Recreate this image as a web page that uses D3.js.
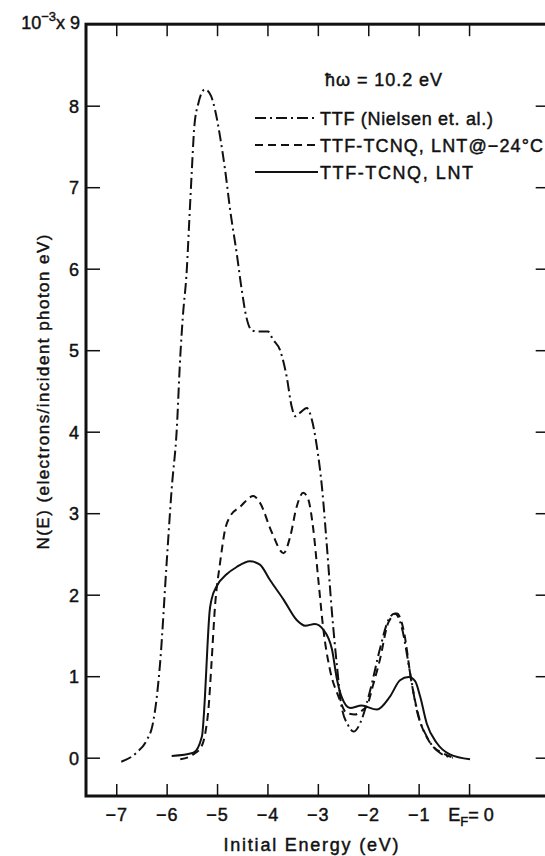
<!DOCTYPE html>
<html>
<head>
<meta charset="utf-8">
<script src="https://cdnjs.cloudflare.com/ajax/libs/d3/7.8.5/d3.min.js"></script>
<style>
  body { margin: 0; background: #fff; }
  text { font-family: "Liberation Sans", Arial, sans-serif; fill: #111; stroke: #111; stroke-width: 0.45px; }
</style>
</head>
<body>
<div id="chart"></div>
<script>
// values: [energy eV, N(E) x 1e-3]
var ttfNielsen = [[-6.9,-0.05],[-6.6,0.06],[-6.39,0.22],[-6.28,0.4],[-6.2,0.72],[-6.13,1.16],[-6.0,2.39],[-5.9,3.3],
  [-5.8,4.02],[-5.73,4.92],[-5.68,5.4],[-5.6,5.99],[-5.55,6.6],[-5.5,7.21],[-5.45,7.75],[-5.37,8.03],[-5.24,8.2],
  [-5.12,8.12],[-5.04,7.95],[-4.94,7.62],[-4.84,7.21],[-4.74,6.72],[-4.61,6.19],[-4.51,5.74],[-4.42,5.41],[-4.3,5.24],
  [-4.15,5.23],[-3.99,5.23],[-3.89,5.13],[-3.75,5.0],[-3.62,4.68],[-3.52,4.31],[-3.45,4.19],[-3.32,4.25],[-3.22,4.29],
  [-3.12,4.15],[-3.02,3.82],[-2.92,3.33],[-2.82,2.59],[-2.72,1.78],[-2.62,1.12],[-2.53,0.63],[-2.4,0.4],[-2.29,0.32],
  [-2.13,0.47],[-1.96,0.83],[-1.77,1.33],[-1.6,1.69],[-1.47,1.77],[-1.34,1.61],[-1.17,1.04],[-1.04,0.59],[-0.84,0.26],
  [-0.58,0.06],[-0.32,0.0]];
var lntWarm = [[-5.73,-0.02],[-5.47,0.04],[-5.3,0.15],[-5.22,0.35],[-5.17,0.6],[-5.11,1.16],[-5.04,1.86],[-4.94,2.39],
  [-4.84,2.8],[-4.74,2.96],[-4.54,3.08],[-4.28,3.21],[-4.15,3.13],[-3.91,2.76],[-3.68,2.51],[-3.55,2.71],[-3.42,3.08],
  [-3.29,3.25],[-3.19,3.17],[-3.09,2.8],[-2.99,2.18],[-2.89,1.57],[-2.76,1.08],[-2.59,0.75],[-2.43,0.55],[-2.26,0.53],
  [-2.1,0.59],[-2.03,0.63],[-1.9,0.9],[-1.77,1.2],[-1.6,1.66],[-1.43,1.77],[-1.3,1.57],[-1.14,0.92],[-1.0,0.51],
  [-0.77,0.18],[-0.5,0.05],[-0.31,0.0]];
var lnt = [[-5.9,0.02],[-5.47,0.06],[-5.3,0.26],[-5.24,0.75],[-5.19,1.37],[-5.15,1.78],[-5.11,1.94],[-5.01,2.1],
  [-4.81,2.25],[-4.61,2.34],[-4.35,2.41],[-4.15,2.37],[-3.95,2.18],[-3.68,1.94],[-3.42,1.69],[-3.25,1.62],[-3.06,1.64],
  [-2.89,1.57],[-2.72,1.33],[-2.62,0.96],[-2.53,0.75],[-2.36,0.61],[-2.13,0.64],[-1.83,0.59],[-1.57,0.75],[-1.37,0.95],
  [-1.2,0.99],[-1.07,0.94],[-0.97,0.75],[-0.84,0.42],[-0.64,0.18],[-0.38,0.04],[0.02,-0.02]];

var xTicks = [-7,-6,-5,-4,-3,-2,-1,0];
var yTicks = [0,1,2,3,4,5,6,7,8,9];
var seriesNames = ["TTF (Nielsen et. al.)", "TTF-TCNQ, LNT@\u221224\u00b0C", "TTF-TCNQ, LNT"];
var seriesDash = ["11,4,2,4", "8,5", null];

var w = 545, h = 856;
var svg = d3.select("#chart").append("svg").attr("width", w).attr("height", h);

var x = d3.scaleLinear().domain([-7.6, 1.6]).range([86, 549.7]);
var y = d3.scaleLinear().domain([-0.47, 9]).range([796, 24.2]);

// ticks on all four sides, pointing inward
svg.append("g").attr("transform", "translate(" + x(-7.6) + ",0)")
  .call(d3.axisLeft(y).tickValues(yTicks.slice(0, 9)).tickSize(-14).tickPadding(7).tickSizeOuter(0))
  .call(function(g) {
    g.select(".domain").remove();
    g.selectAll(".tick line").attr("stroke", "#111").attr("stroke-width", 1.5);
    g.selectAll(".tick text").attr("font-size", 18).attr("dy", "0.36em");
  });
svg.append("g").attr("transform", "translate(" + x(1.6) + ",0)")
  .call(d3.axisRight(y).tickValues(yTicks.slice(0, 9)).tickSize(-14).tickFormat("").tickSizeOuter(0))
  .call(function(g) {
    g.select(".domain").remove();
    g.selectAll(".tick line").attr("stroke", "#111").attr("stroke-width", 1.5);
  });
svg.append("g").attr("transform", "translate(0," + y(-0.47) + ")")
  .call(d3.axisBottom(x).tickValues(xTicks).tickSize(-12).tickPadding(12).tickSizeOuter(0)
    .tickFormat(function(d) { return d === 0 ? "" : d3.format("")(d); }))
  .call(function(g) {
    g.select(".domain").remove();
    g.selectAll(".tick line").attr("stroke", "#111").attr("stroke-width", 1.5);
    g.selectAll(".tick text").attr("font-size", 18).attr("letter-spacing", 1);
  });
svg.append("g").attr("transform", "translate(0," + y(9) + ")")
  .call(d3.axisTop(x).tickValues(xTicks).tickSize(-12).tickFormat("").tickSizeOuter(0))
  .call(function(g) {
    g.select(".domain").remove();
    g.selectAll(".tick line").attr("stroke", "#111").attr("stroke-width", 1.5);
  });

// frame
svg.append("rect")
  .attr("x", x(-7.6)).attr("y", y(9))
  .attr("width", x(1.6) - x(-7.6)).attr("height", y(-0.47) - y(9))
  .attr("fill", "none").attr("stroke", "#111").attr("stroke-width", 3);

// E_F = 0 label
var ef = svg.append("text").attr("x", x(0) + 2).attr("y", 821)
  .attr("text-anchor", "middle").attr("font-size", 18);
ef.append("tspan").text("E");
ef.append("tspan").attr("font-size", 13).attr("dy", 5).text("F");
ef.append("tspan").attr("dy", -5).text("= 0");

// top label of the y axis
var top9 = svg.append("text").attr("x", 80).attr("y", 29).attr("text-anchor", "end").attr("font-size", 18);
top9.append("tspan").text("10");
top9.append("tspan").attr("font-size", 13).attr("dy", -8).text("\u22123");
top9.append("tspan").attr("dy", 8).text("x 9");

svg.append("text").attr("x", 311).attr("y", 851).attr("text-anchor", "middle")
  .attr("font-size", 18).attr("textLength", 175).attr("lengthAdjust", "spacing")
  .text("Initial Energy (eV)");
svg.append("text").attr("transform", "translate(49,392) rotate(-90)").attr("text-anchor", "middle")
  .attr("font-size", 17).attr("textLength", 315).attr("lengthAdjust", "spacing")
  .text("N(E) (electrons/incident photon eV)");

var line = d3.line()
  .x(function(d) { return x(d[0]); })
  .y(function(d) { return y(d[1]); })
  .curve(d3.curveMonotoneX);

var series = [ttfNielsen, lntWarm, lnt];
svg.append("g").selectAll("path").data(series).enter().append("path")
  .attr("d", line)
  .attr("fill", "none").attr("stroke", "#111").attr("stroke-width", 2)
  .attr("stroke-dasharray", function(d, i) { return seriesDash[i]; });

// legend
svg.append("text").attr("x", 325).attr("y", 86).attr("font-size", 18)
  .attr("textLength", 117).attr("lengthAdjust", "spacing").text("\u0127\u03c9 = 10.2 eV");
var legendY = [118, 145, 172];
var legendLen = [173, 223, 153];
var lg = svg.append("g").selectAll("g").data(seriesNames).enter().append("g");
lg.append("line")
  .attr("x1", 255).attr("x2", 318)
  .attr("y1", function(d, i) { return legendY[i]; }).attr("y2", function(d, i) { return legendY[i]; })
  .attr("stroke", "#111").attr("stroke-width", 2)
  .attr("stroke-dasharray", function(d, i) { return seriesDash[i]; });
lg.append("text")
  .attr("x", 320).attr("y", function(d, i) { return legendY[i] + 6.5; })
  .attr("font-size", 18)
  .attr("textLength", function(d, i) { return legendLen[i]; }).attr("lengthAdjust", "spacing")
  .text(function(d) { return d; });
</script>
</body>
</html>
